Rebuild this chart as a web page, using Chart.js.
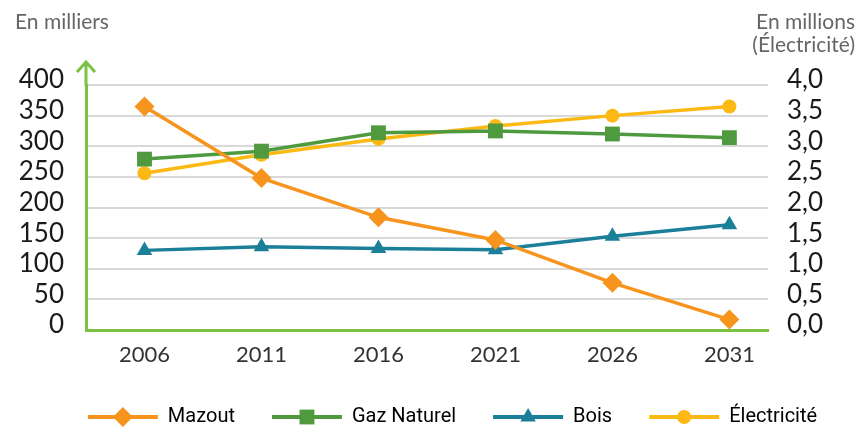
<!DOCTYPE html>
<html lang="fr">
<head>
<meta charset="utf-8">
<script src="https://cdn.jsdelivr.net/npm/chart.js@4/dist/chart.umd.min.js"></script>
<style>
  html, body { margin: 0; padding: 0; background: #fff; }
  #wrap { width: 859px; height: 427px; position: relative; }
</style>
</head>
<body>
<div id="wrap"><canvas id="chauffage"></canvas></div>
<script>
// Years on the x axis
const years = [2006, 2011, 2016, 2021, 2026, 2031];

// Left axis, in thousands
const mazout = [365, 248, 184, 147, 77, 17];
const gazNaturel = [279, 292, 322, 325, 320, 314];
const bois = [130, 136, 133, 131, 153, 172];

// Right axis, in millions
const electricite = [2.56, 2.86, 3.12, 3.33, 3.5, 3.65];

const leftTicks = [0, 50, 100, 150, 200, 250, 300, 350, 400];
const rightTicks = [0, 0.5, 1, 1.5, 2, 2.5, 3, 3.5, 4];

const axisGreen = "#7cc242";
const tickFont = { family: "Lato", size: 26 };

function points(values) {
  return values.map((v, i) => ({ x: years[i], y: v }));
}

function serie(label, values, color, style, radius, axis) {
  return {
    label,
    data: points(values),
    borderColor: color,
    backgroundColor: color,
    borderWidth: 3.5,
    pointStyle: style,
    pointRadius: radius,
    pointHoverRadius: radius,
    pointBorderWidth: 0,
    yAxisID: axis,
    tension: 0,
  };
}

const decorations = {
  id: "decorations",
  // push the legend row a bit to the right
  afterLayout(chart) {
    const lg = chart.legend;
    if (!lg) return;
    lg.left += 41;
    lg.right += 41;
  },
  // axis captions + arrow on top of the left axis
  afterDraw(chart) {
    const ctx = chart.ctx;
    const area = chart.chartArea;
    ctx.save();
    ctx.strokeStyle = axisGreen;
    ctx.lineWidth = 3;
    ctx.beginPath();
    ctx.moveTo(area.left, area.top + 1);
    ctx.lineTo(area.left, 62);
    ctx.moveTo(area.left - 9, 72);
    ctx.lineTo(area.left, 62);
    ctx.lineTo(area.left + 9, 72);
    ctx.stroke();

    ctx.fillStyle = "#666666";
    ctx.font = "21px Lato";
    ctx.textBaseline = "middle";
    ctx.textAlign = "left";
    ctx.fillText("En milliers", 15, 22);
    ctx.textAlign = "right";
    ctx.fillText("En millions", 855, 22);
    ctx.fillText("(Électricité)", 855, 45);

    // markers over the legend lines
    const legend = chart.legend;
    if (legend && legend.legendHitBoxes) {
      const boxW = legend.options.labels.boxWidth;
      legend.legendHitBoxes.forEach((box, i) => {
        const ds = chart.data.datasets[i];
        ctx.fillStyle = ds.backgroundColor;
        ctx.strokeStyle = ds.backgroundColor;
        Chart.helpers.drawPoint(ctx, {
          pointStyle: ds.pointStyle,
          radius: ds.pointRadius,
          borderWidth: 0,
          rotation: 0,
        }, box.left + boxW / 2, box.top + box.height / 2);
      });
    }
    ctx.restore();
  },
};

new Chart(document.getElementById("chauffage"), {
  type: "line",
  data: {
    datasets: [
      serie("Mazout", mazout, "#f7941d", "rectRot", 10, "y"),
      serie("Gaz Naturel", gazNaturel, "#4f9a3f", "rect", 10.5, "y"),
      serie("Bois", bois, "#1c7f99", "triangle", 9, "y"),
      serie("Électricité", electricite, "#fdb913", "circle", 7, "y1"),
    ],
  },
  options: {
    responsive: true,
    maintainAspectRatio: false,
    animation: false,
    layout: { padding: { top: 85, left: 0, right: 36, bottom: -10 } },
    plugins: {
      tooltip: { enabled: false },
      legend: {
        position: "bottom",
        labels: {
          boxWidth: 70,
          boxHeight: 4,
          padding: 37,
          color: "#595959",
          font: { family: "Roboto", size: 20 },
          generateLabels(chart) {
            return chart.data.datasets.map((ds, i) => ({
              text: ds.label,
              fillStyle: ds.borderColor,
              strokeStyle: ds.borderColor,
              lineWidth: 0,
              datasetIndex: i,
              hidden: false,
            }));
          },
        },
      },
    },
    scales: {
      x: {
        type: "linear",
        min: 2003.5,
        max: 2032.65,
        afterBuildTicks(scale) {
          scale.ticks = years.map((v) => ({ value: v }));
        },
        afterFit(scale) {
          scale.height = 40;
        },
        grid: { display: false, drawTicks: false },
        border: { color: axisGreen, width: 3 },
        ticks: {
          padding: 12,
          color: "#333333",
          font: { family: "Lato", size: 22 },
          callback: (v) => String(v),
        },
      },
      y: {
        position: "left",
        min: 0,
        max: 400,
        afterBuildTicks(scale) {
          scale.ticks = leftTicks.map((v) => ({ value: v }));
        },
        afterFit(scale) {
          scale.width = 86;
        },
        grid: { color: "#d9d9d9", lineWidth: 2, drawTicks: false },
        border: { color: axisGreen, width: 3 },
        ticks: {
          autoSkip: false,
          padding: 22,
          labelOffset: -5,
          color: "#1a1a1a",
          font: tickFont,
        },
      },
      y1: {
        position: "right",
        min: 0,
        max: 4,
        afterBuildTicks(scale) {
          scale.ticks = rightTicks.map((v) => ({ value: v }));
        },
        afterFit(scale) {
          scale.width = 55;
        },
        grid: { display: false, drawTicks: false },
        border: { display: false },
        ticks: {
          autoSkip: false,
          padding: 19,
          labelOffset: -5,
          crossAlign: "far",
          color: "#1a1a1a",
          font: tickFont,
          callback: (v) => v.toFixed(1).replace(".", ","),
        },
      },
    },
  },
  plugins: [decorations],
});
</script>
</body>
</html>
